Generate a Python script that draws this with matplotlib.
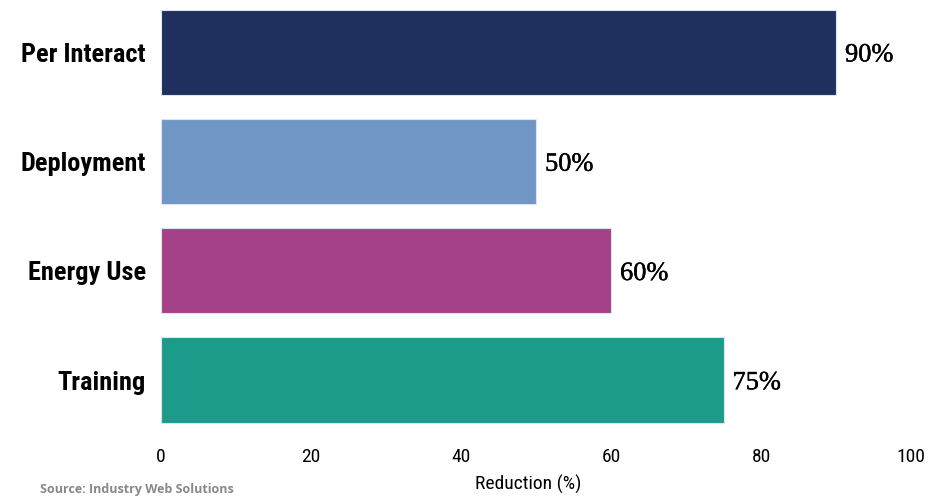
import matplotlib
matplotlib.use('Agg')
import matplotlib.pyplot as plt
import matplotlib.patheffects as pe

# data (top to bottom as shown)
categories = ['Per Interact', 'Deployment', 'Energy Use', 'Training']
values = [90, 50, 60, 75]
colors = ['#1f305e', '#7096c6', '#a44189', '#1c9a8a']
xticks = [0, 20, 40, 60, 80, 100]

cond = ['Liberation Sans Narrow', 'Roboto Condensed', 'DejaVu Sans Condensed', 'Roboto', 'DejaVu Sans']

fig = plt.figure(figsize=(9.49, 4.97), dpi=100)
ax = fig.add_axes([0.1697, 0.1147, 0.7903, 0.885])

# bottom-up positions so first category sits on top
ypos = list(range(len(categories)))[::-1]
ax.barh(ypos, values, height=0.78, color=colors, edgecolor='#dde3ee', linewidth=0.8)

for y, v in zip(ypos, values):
    ax.text(v + 1.2, y - 0.03, f'{v}%', va='center', ha='left',
            fontsize=19, family=['Liberation Serif', 'DejaVu Serif'], color='black',
            path_effects=[pe.withStroke(linewidth=0.3, foreground='black')])

ax.set_xlim(0, 100)
ax.set_ylim(-0.549, 3.476)
ax.set_yticks(ypos)
ax.set_yticklabels(categories, fontsize=19, fontweight='bold', family=cond)
ax.set_xticks(xticks)
ax.set_xticklabels([str(t) for t in xticks], fontsize=14, family=cond)
ax.tick_params(axis='both', length=0)
ax.tick_params(axis='y', pad=11)
ax.tick_params(axis='x', pad=6)
ax.set_xlabel('Reduction (%)', fontsize=14, family=cond)
ax.xaxis.set_label_coords(0.49, -0.079)

for s in ax.spines.values():
    s.set_visible(False)

# source line along the bottom edge
fig.text(0.042, 0.003, 'Source: Industry Web Solutions', fontsize=9, color='#888888',
         family=['Open Sans', 'DejaVu Sans'], fontweight='bold', va='bottom')

fig.savefig('out.png', dpi=100)
